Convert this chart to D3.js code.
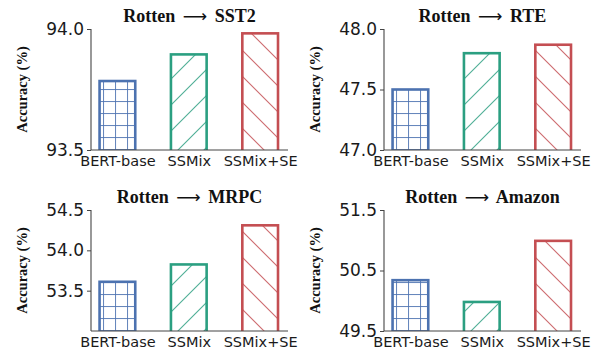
<!DOCTYPE html>
<html>
<head>
<meta charset="utf-8">
<script src="https://cdn.jsdelivr.net/npm/d3@7"></script>
<style>
  html, body { margin: 0; padding: 0; background: #fff; }
  svg { display: block; }
</style>
</head>
<body>
<svg id="chart" width="597" height="355"></svg>
<script>
// ---- data ----
const categories = ["BERT-base", "SSMix", "SSMix+SE"];
const panelTitles = ["SST2", "RTE", "MRPC", "Amazon"];
const sst2Values = [93.785, 93.895, 93.982];
const rteValues = [47.50, 47.80, 47.87];
const mrpcValues = [53.61, 53.825, 54.31];
const amazonValues = [50.34, 49.98, 50.99];
const sst2Domain = [93.5, 94.0];
const rteDomain = [47.0, 48.0];
const mrpcDomain = [53.0, 54.5];
const amazonDomain = [49.5, 51.5];
const sst2Ticks = [93.5, 94.0];
const rteTicks = [47.0, 47.5, 48.0];
const mrpcTicks = [53.5, 54.0, 54.5];
const amazonTicks = [49.5, 50.5, 51.5];
const source = "Rotten";
const yLabel = "Accuracy (%)";

const colors = ["#4c72b0", "#2b9f81", "#c44e52"];

const panels = [
  { title: panelTitles[0], values: sst2Values, domain: sst2Domain, ticks: sst2Ticks, x0: 91, y0: 29 },
  { title: panelTitles[1], values: rteValues, domain: rteDomain, ticks: rteTicks, x0: 384, y0: 29 },
  { title: panelTitles[2], values: mrpcValues, domain: mrpcDomain, ticks: mrpcTicks, x0: 91, y0: 210 },
  { title: panelTitles[3], values: amazonValues, domain: amazonDomain, ticks: amazonTicks, x0: 384, y0: 210 }
];
const W = 197, H = 121;

const svg = d3.select("#chart");
const defs = svg.append("defs");

// hatch patterns
function gridPattern(id, color) {
  const p = defs.append("pattern").attr("id", id).attr("patternUnits", "userSpaceOnUse")
    .attr("width", 12).attr("height", 12);
  p.append("line").attr("x1", 0.5).attr("y1", 0).attr("x2", 0.5).attr("y2", 12)
    .attr("stroke", color).attr("stroke-width", 1.1).attr("stroke-opacity", 0.85);
  p.append("line").attr("x1", 0).attr("y1", 0.5).attr("x2", 12).attr("y2", 0.5)
    .attr("stroke", color).attr("stroke-width", 1.1).attr("stroke-opacity", 0.85);
}
function diagPattern(id, color, forward) {
  const s = 26;
  const p = defs.append("pattern").attr("id", id).attr("patternUnits", "userSpaceOnUse")
    .attr("width", s).attr("height", s);
  const segs = forward
    ? [[0, s, s, 0], [-s, s, s, -s], [0, 2 * s, 2 * s, 0]]
    : [[0, 0, s, s], [-s, 0, s, 2 * s], [0, -s, 2 * s, s]];
  segs.forEach(([a, b, c, d]) => p.append("line").attr("x1", a).attr("y1", b).attr("x2", c).attr("y2", d)
    .attr("stroke", color).attr("stroke-width", 1.1).attr("stroke-opacity", 0.85));
}
gridPattern("hatch0", colors[0]);
diagPattern("hatch1", colors[1], true);
diagPattern("hatch2", colors[2], false);

panels.forEach((pn, pi) => {
  const g = svg.append("g").attr("transform", `translate(${pn.x0},${pn.y0})`);
  const x = d3.scaleLinear().domain([-0.37, 2.39]).range([0, W]);
  const y = d3.scaleLinear().domain(pn.domain).range([H, 0]);

  const clipId = "clip" + pi;
  defs.append("clipPath").attr("id", clipId).append("rect")
    .attr("x", 0).attr("y", -5).attr("width", W).attr("height", H + 5);

  const bw = 0.5;
  const bars = g.append("g").attr("clip-path", `url(#${clipId})`);
  bars.selectAll("rect.fill").data(pn.values).enter().append("rect")
    .attr("x", (d, i) => x(i - bw / 2))
    .attr("width", (d, i) => x(i + bw / 2) - x(i - bw / 2))
    .attr("y", d => y(d))
    .attr("height", d => y(pn.domain[0]) - y(d) + 4)
    .attr("fill", (d, i) => `url(#hatch${i})`)
    .attr("stroke", (d, i) => colors[i])
    .attr("stroke-width", 2.6);

  // y axis
  const yAxis = d3.axisLeft(y).tickValues(pn.ticks).tickFormat(d3.format(".1f")).tickSize(4).tickPadding(3);
  const ya = g.append("g").call(yAxis);
  ya.select(".domain").attr("stroke", "#444").attr("stroke-width", 1.1).attr("d", `M0,0V${H}`);
  ya.selectAll(".tick line").attr("stroke", "#444");
  ya.selectAll(".tick text").attr("font-family", "DejaVu Sans").attr("font-size", 17).attr("fill", "#1a1a1a");

  // x axis
  const xAxis = d3.axisBottom(x).tickValues([0, 1, 2]).tickFormat(i => categories[i]).tickSize(0).tickPadding(6);
  const xa = g.append("g").attr("transform", `translate(0,${H})`).call(xAxis);
  xa.select(".domain").attr("stroke", "#444").attr("stroke-width", 1.1).attr("d", `M0,0H${W}`);
  xa.selectAll(".tick text").attr("font-family", "DejaVu Sans").attr("font-size", 14.5).attr("fill", "#1a1a1a");

  // title
  const t = g.append("text").attr("x", W / 2).attr("y", -7).attr("text-anchor", "middle")
    .attr("font-family", "Liberation Serif").attr("font-weight", "bold").attr("font-size", 18)
    .attr("fill", "#111");
  t.append("tspan").text(`${source} `);
  t.append("tspan").attr("dx", 3).attr("font-family", "DejaVu Sans").attr("font-weight", "normal")
    .attr("font-size", 17).text("⟶");
  t.append("tspan").attr("dx", 3).text(` ${pn.title}`);

  // y label
  g.append("text").attr("transform", `translate(${-64},${H / 2}) rotate(-90)`)
    .attr("text-anchor", "middle").attr("font-family", "Liberation Serif").attr("font-weight", "bold")
    .attr("font-size", 14.5).attr("fill", "#111").text(yLabel);
});
</script>
</body>
</html>
